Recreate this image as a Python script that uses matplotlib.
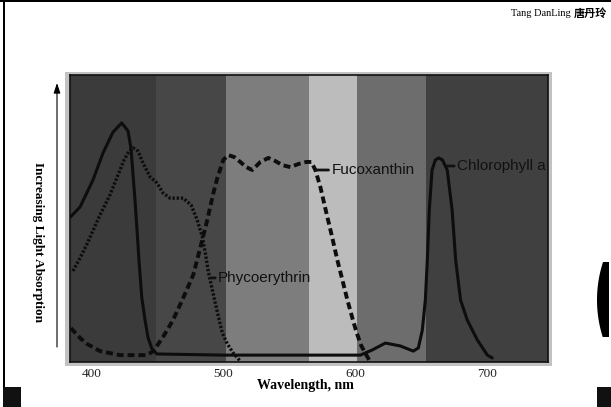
import numpy as np
import matplotlib.pyplot as plt
from matplotlib.patches import Rectangle, Polygon

W, H = 611, 407

# absorption spectra (wavelength nm, relative absorption)
chl_nm = [384.1, 391.4, 401.2, 408.8, 416.4, 423.0, 427.8, 430.1, 431.6, 433.1, 434.6,
          436.2, 438.2, 440.7, 443.0, 446.0, 449.7, 500.0, 560.0, 603.9, 613.0, 622.9,
          634.2, 644.1, 647.9, 650.9, 653.2, 654.7, 656.2, 658.3, 660.8, 663.3, 666.2,
          669.8, 673.5, 676.2, 679.9, 685.0, 692.6, 700.2, 704.0]
chl_abs = [0.505, 0.540, 0.634, 0.728, 0.801, 0.833, 0.805, 0.742, 0.652, 0.564, 0.460,
           0.348, 0.226, 0.146, 0.084, 0.045, 0.028, 0.024, 0.024, 0.024, 0.042, 0.066,
           0.056, 0.038, 0.049, 0.111, 0.216, 0.355, 0.530, 0.669, 0.704, 0.711, 0.704,
           0.669, 0.530, 0.355, 0.216, 0.146, 0.077, 0.024, 0.014]

phyco_nm = [386.0, 391.4, 396.7, 406.5, 414.1, 420.2, 424.8, 428.6, 431.6, 435.4, 439.2,
            444.5, 449.7, 454.3, 459.6, 469.6, 475.6, 480.2, 484.1, 486.4, 488.7, 491.7,
            495.5, 499.3, 503.1, 507.6, 512.9]
phyco_abs = [0.317, 0.362, 0.411, 0.512, 0.582, 0.652, 0.704, 0.735, 0.746, 0.735, 0.693,
             0.645, 0.624, 0.589, 0.571, 0.571, 0.547, 0.495, 0.436, 0.380, 0.314, 0.251,
             0.174, 0.101, 0.063, 0.031, 0.003]

fuco_nm = [384.5, 391.4, 396.7, 406.5, 421.7, 441.5, 446.0, 449.7, 454.3, 461.9, 469.6,
           477.2, 482.5, 487.9, 492.5, 495.5, 500.0, 503.8, 508.4, 512.9, 517.4, 522.0,
           525.1, 528.1, 534.2, 539.5, 544.8, 550.9, 557.0, 563.0, 566.8, 569.8, 573.6,
           578.2, 582.7, 586.5, 590.3, 594.1, 597.9, 600.9, 604.7, 608.5, 611.5]
fuco_abs = [0.118, 0.084, 0.063, 0.038, 0.024, 0.024, 0.035, 0.056, 0.087, 0.146, 0.223,
            0.303, 0.397, 0.495, 0.589, 0.641, 0.704, 0.721, 0.714, 0.697, 0.679, 0.669,
            0.683, 0.697, 0.711, 0.700, 0.686, 0.679, 0.690, 0.697, 0.697, 0.669, 0.610,
            0.519, 0.432, 0.355, 0.286, 0.216, 0.153, 0.105, 0.056, 0.024, 0.000]

# colour bands behind the curves
band_edges = [383.8, 449.0, 502.1, 565.0, 601.4, 653.9, 746.2]
band_greys = ['#3b3b3b', '#474747', '#7d7d7d', '#bcbcbc', '#6d6d6d', '#404040']

xticks = [400, 500, 600, 700]
xtick_labels = ['400', '500', '600', '700']

# label anchor (point on curve) and text start, in data units
labels = [('Phycoerythrin', 490.7, 0.293, 496.0),
          ('Fucoxanthin', 569.8, 0.669, 581.9),
          ('Chlorophyll a', 669.8, 0.683, 677.2)]


def fx(px):
    return px / W


def fy(py):
    return 1 - py / H


fig = plt.figure(figsize=(W / 100, H / 100), dpi=100)
fig.patch.set_facecolor('white')

# slide decorations
fig.add_artist(Rectangle((0, fy(2)), 1, 2 / H, transform=fig.transFigure, color='black', lw=0))
fig.add_artist(Rectangle((fx(3), fy(387)), 2 / W, 385 / H, transform=fig.transFigure, color='black', lw=0))
fig.add_artist(Rectangle((fx(3), 0), 18 / W, 20 / H, transform=fig.transFigure, color='#111111', lw=0))
fig.add_artist(Rectangle((fx(597), 0), 14 / W, 20 / H, transform=fig.transFigure, color='#111111', lw=0))
cy = np.linspace(262, 337, 40)
cx = 720 - np.sqrt(123 ** 2 - (cy - 300) ** 2)
pts = [(fx(a), fy(b)) for a, b in zip(cx, cy)] + [(fx(609), fy(337)), (fx(609), fy(262))]
fig.add_artist(Polygon(pts, closed=True, transform=fig.transFigure, color='black', lw=0))

# scanned image border
fig.add_artist(Rectangle((fx(65), fy(366)), 487 / W, 294 / H, transform=fig.transFigure,
                         color='#c2c2c2', lw=0, zorder=-5))

ax = fig.add_axes([fx(70), fy(362), 478 / W, 287 / H])
ax.set_zorder(2)
for i, c in enumerate(band_greys):
    ax.axvspan(band_edges[i], band_edges[i + 1], color=c, lw=0)

ax.plot(chl_nm, chl_abs, color='#0d0d0d', lw=2.2, solid_capstyle='round')
ax.plot(phyco_nm, phyco_abs, color='#0d0d0d', lw=2.4, linestyle=(0, (0.7, 0.55)))
ax.plot(fuco_nm, fuco_abs, color='#0d0d0d', lw=2.8, linestyle=(0, (1.8, 1.0)))

for name, x0, y0, xt in labels:
    ax.annotate(name, xy=(x0, y0), xytext=(xt, y0), va='center', ha='left',
                fontsize=11, family='Liberation Sans', color='#111111',
                arrowprops=dict(arrowstyle='-', lw=2, color='#111111', shrinkA=0, shrinkB=0))

ax.set_xlim(band_edges[0], band_edges[-1])
ax.set_ylim(0, 1)
ax.set_xticks(xticks)
ax.set_xticklabels(xtick_labels, family='Liberation Serif', fontsize=9.5, color='#222222')
ax.set_yticks([])
ax.tick_params(axis='x', length=0, pad=4)
for s in ax.spines.values():
    s.set_linewidth(1.2)
    s.set_color('#111111')

fig.text(fx(305), fy(386), 'Wavelength, nm', ha='center', va='center',
         family='Liberation Serif', fontweight='bold', fontsize=10)
fig.text(fx(38), fy(242), 'Increasing Light Absorption', ha='center', va='center',
         rotation=270, family='Liberation Serif', fontweight='bold', fontsize=9.5)
fig.add_artist(plt.Annotation('', xy=(57, H - 83), xytext=(57, H - 347),
                              xycoords='figure pixels', textcoords='figure pixels',
                              arrowprops=dict(arrowstyle='-|>,head_length=0.6,head_width=0.2',
                                              lw=0.8, color='black', shrinkA=0, shrinkB=0)))

fig.text(fx(607), fy(13), '唐丹玲', ha='right', va='center',
         family='Noto Sans CJK SC', fontweight='bold', fontsize=8)
fig.text(fx(571), fy(13), 'Tang DanLing', ha='right', va='center',
         family='Liberation Serif', fontsize=7.5)

fig.savefig('out.png', dpi=100)
